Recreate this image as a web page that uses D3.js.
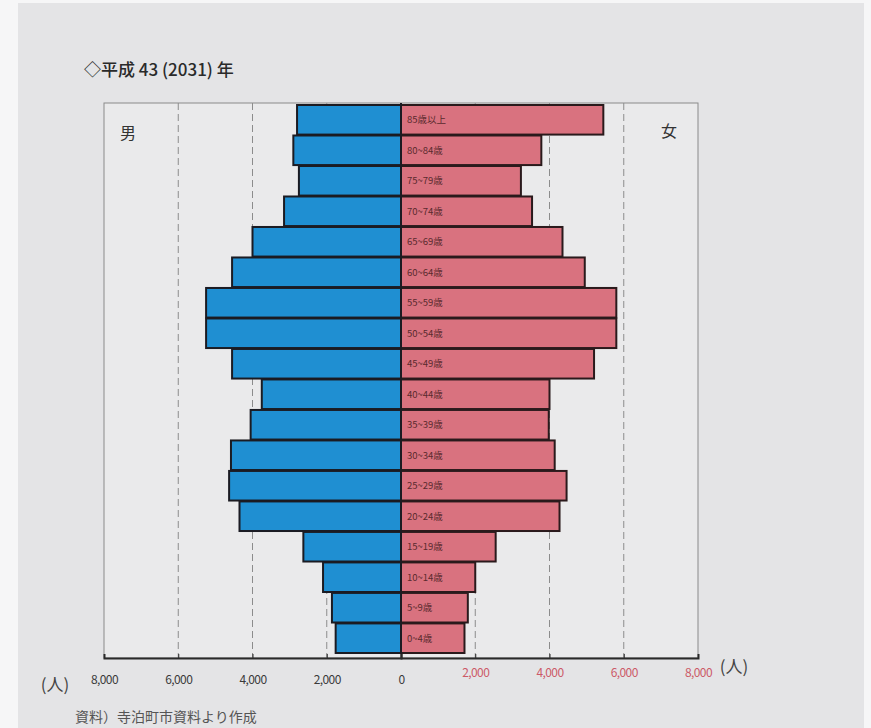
<!DOCTYPE html>
<html>
<head>
<meta charset="utf-8">
<script src="https://cdn.jsdelivr.net/npm/d3@7"></script>
<style>
  html, body { margin: 0; padding: 0; background: #f6f6f7; }
  svg { display: block; }
  text { font-family: "Noto Sans CJK JP", "Noto Sans", sans-serif; }
</style>
</head>
<body>
<svg id="chart" width="871" height="728"></svg>
<script>
// ---- data (top to bottom) ----
const ageGroups = ["85歳以上","80~84歳","75~79歳","70~74歳","65~69歳","60~64歳","55~59歳","50~54歳","45~49歳","40~44歳","35~39歳","30~34歳","25~29歳","20~24歳","15~19歳","10~14歳","5~9歳","0~4歳"];
const maleValues   = [2800, 2900, 2750, 3150, 4000, 4550, 5250, 5250, 4550, 3750, 4050, 4580, 4630, 4350, 2630, 2100, 1860, 1760];
const femaleValues = [5450, 3780, 3230, 3530, 4350, 4950, 5800, 5800, 5200, 4000, 3980, 4140, 4460, 4270, 2550, 2000, 1800, 1710];
const tickValues = [8000, 6000, 4000, 2000, 0];
const gridValues = [6000, 4000, 2000];
const title = "◇平成 43 (2031) 年";
const maleLabel = "男", femaleLabel = "女", unitLabel = "(人)";
const sourceText = "資料）寺泊町市資料より作成";

(function () {
const svg = d3.select("#chart");
// page background (photographed paper)
svg.append("rect").attr("x", 18).attr("y", 3).attr("width", 846).attr("height", 725).attr("fill", "#e4e4e6");

const cx = 401, half = 297;
const pL = cx - half, pR = cx + half, pT = 103, pB = 658;
const xM = d3.scaleLinear().domain([0, 8000]).range([cx, pL]);
const xF = d3.scaleLinear().domain([0, 8000]).range([cx, pR]);
const y = d3.scaleBand().domain(ageGroups).range([pT + 2, pB - 5]).paddingInner(0.03);

// plot area
svg.append("rect").attr("x", pL).attr("y", pT).attr("width", pR - pL).attr("height", pB - pT)
  .attr("fill", "#eaeaeb").attr("stroke", "#8a8a8a").attr("stroke-width", 1);

// gridlines
const grid = svg.append("g");
gridValues.forEach(v => {
  [xM(v), xF(v)].forEach(gx => {
    grid.append("line").attr("x1", gx).attr("x2", gx).attr("y1", pT).attr("y2", pB)
      .attr("stroke", "#8c8c8c").attr("stroke-width", 1).attr("stroke-dasharray", "7,4");
  });
});

// bars
svg.append("g").selectAll("rect").data(ageGroups).join("rect")
  .attr("x", (d, i) => xM(maleValues[i]))
  .attr("y", d => y(d))
  .attr("width", (d, i) => cx - xM(maleValues[i]))
  .attr("height", y.bandwidth())
  .attr("fill", "#1f8fd2").attr("stroke", "#1b1b22").attr("stroke-width", 2);

svg.append("g").selectAll("rect").data(ageGroups).join("rect")
  .attr("x", cx)
  .attr("y", d => y(d))
  .attr("width", (d, i) => xF(femaleValues[i]) - cx)
  .attr("height", y.bandwidth())
  .attr("fill", "#d9727f").attr("stroke", "#2a1a1c").attr("stroke-width", 2);

// centre line
svg.append("line").attr("x1", cx).attr("x2", cx).attr("y1", pT).attr("y2", pB - 4)
  .attr("stroke", "#1b1b22").attr("stroke-width", 2);

// age labels
svg.append("g").selectAll("text").data(ageGroups).join("text")
  .attr("x", cx + 6).attr("y", d => y(d) + y.bandwidth() / 2 + 3.5)
  .attr("font-size", 9.5).attr("fill", "#5a2a2e").text(d => d);

// bottom axis
const axisM = d3.axisBottom(xM).tickValues(tickValues).tickSize(-4).tickFormat(d3.format(","));
const axisF = d3.axisBottom(xF).tickValues(tickValues.filter(v => v > 0)).tickSize(-4).tickFormat(d3.format(","));
const gM = svg.append("g").attr("transform", `translate(0,${pB})`).call(axisM);
const gF = svg.append("g").attr("transform", `translate(0,${pB})`).call(axisF);
[gM, gF].forEach(g => {
  g.select(".domain").attr("stroke", "#2a2a2a").attr("stroke-width", 2);
  g.selectAll(".tick line").attr("stroke", "#2a2a2a");
  g.selectAll(".tick text").attr("font-size", 12).attr("font-family", "'Liberation Sans', Arial, sans-serif").attr("letter-spacing", "-0.6");
});
gM.selectAll(".tick text").attr("dy", "1.9em").attr("fill", "#3a3a3a");
gF.selectAll(".tick text").attr("dy", "1.3em").attr("fill", "#cc5a68");

// unit labels
svg.append("text").attr("x", 55).attr("y", 691).attr("text-anchor", "middle").attr("font-size", 17).attr("fill", "#444").text(unitLabel);
svg.append("text").attr("x", 734).attr("y", 673).attr("text-anchor", "middle").attr("font-size", 17).attr("fill", "#444").text(unitLabel);

// title
svg.append("text").attr("x", 84).attr("y", 76).attr("font-size", 17).attr("font-weight", 500).attr("fill", "#2a2a2a").text(title);

// sex labels
svg.append("text").attr("x", 128).attr("y", 139).attr("text-anchor", "middle").attr("font-size", 16).attr("fill", "#333").text(maleLabel);
svg.append("text").attr("x", 669).attr("y", 137).attr("text-anchor", "middle").attr("font-size", 16).attr("fill", "#333").text(femaleLabel);

// source note
svg.append("text").attr("x", 75).attr("y", 722).attr("font-size", 14).attr("fill", "#555").text(sourceText);
})();
</script>
</body>
</html>
